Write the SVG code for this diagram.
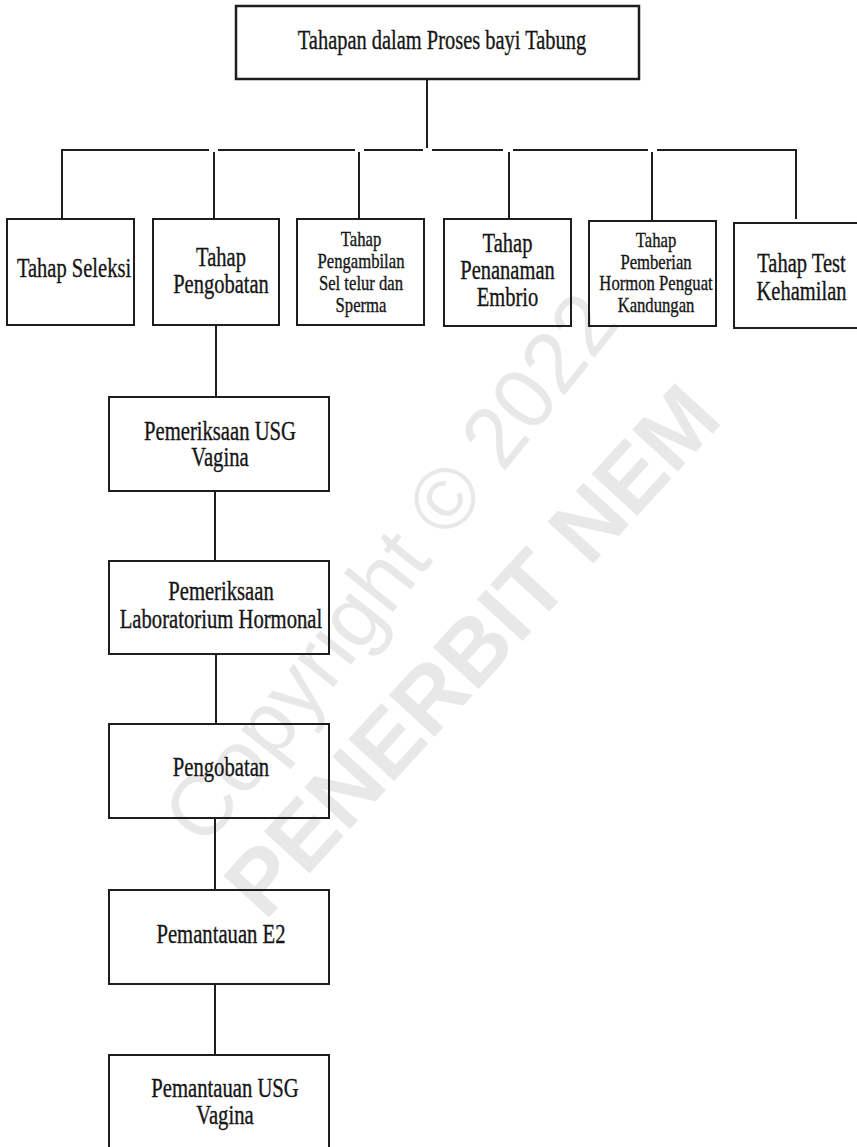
<svg xmlns="http://www.w3.org/2000/svg" width="857" height="1147" viewBox="0 0 857 1147">
<style>
.bg{fill:#fff}
.box{fill:none;stroke:#1e1e1e;stroke-width:2}
.top{fill:none;stroke:#1e1e1e;stroke-width:2.5}
.ln{stroke:#1e1e1e;stroke-width:2;fill:none}
.t{fill:#161616;stroke:#161616;stroke-width:0.35;text-anchor:middle;font-family:'Liberation Serif','Times New Roman',serif}
.L{font-size:27px}
.S{font-size:21.5px}
.C{font-size:26.5px}
.H{font-size:28px}
.wm{fill:#e8e8e8;font-family:'Liberation Sans',Arial,sans-serif}
</style>
<rect class="bg" x="0" y="0" width="857" height="1147"/>
<g id="watermark">
<text class="wm" font-size="86" transform="translate(205 849) rotate(-51.6)">Copyright © 2022</text>
<text class="wm" font-size="90" font-weight="bold" transform="translate(265 922) rotate(-47.5)">PENERBIT NEM</text>
</g>
<g id="connectors">
<line class="ln" x1="427" y1="79" x2="427" y2="148"/>
<polyline class="ln" points="62,219 62,150 209,150"/>
<line class="ln" x1="218" y1="150" x2="355" y2="150"/>
<line class="ln" x1="364" y1="150" x2="423" y2="150"/>
<line class="ln" x1="432" y1="150" x2="503" y2="150"/>
<line class="ln" x1="513" y1="150" x2="648" y2="150"/>
<polyline class="ln" points="657,150 796,150 796,219"/>
<line class="ln" x1="214" y1="152" x2="214" y2="219"/>
<line class="ln" x1="359" y1="152" x2="359" y2="219"/>
<line class="ln" x1="509" y1="152" x2="509" y2="219"/>
<line class="ln" x1="652" y1="152" x2="652" y2="221"/>
<line class="ln" x1="216" y1="325" x2="216" y2="397"/>
<line class="ln" x1="215" y1="491" x2="215" y2="561"/>
<line class="ln" x1="216" y1="654" x2="216" y2="724"/>
<line class="ln" x1="215" y1="818" x2="215" y2="890"/>
<line class="ln" x1="215" y1="984" x2="215" y2="1055"/>
</g>
<g id="n-root">
<rect class="top" x="236" y="6" width="403" height="73"/>
<text class="t H" transform="translate(442 49) scale(0.73 1)">Tahapan dalam Proses bayi Tabung</text>
</g>
<g id="n-seleksi">
<rect class="box" x="7" y="219" width="127" height="106"/>
<text class="t L" transform="translate(74 276.5) scale(0.76 1)">Tahap Seleksi</text>
</g>
<g id="n-pengobatan">
<rect class="box" x="153" y="219" width="126" height="106"/>
<text class="t L" transform="translate(221 265.5) scale(0.76 1)">Tahap</text>
<text class="t L" transform="translate(221 292.5) scale(0.76 1)">Pengobatan</text>
</g>
<g id="n-pengambilan">
<rect class="box" x="297" y="219" width="127" height="106"/>
<text class="t S" transform="translate(361 246) scale(0.775 1)">Tahap</text>
<text class="t S" transform="translate(361 268) scale(0.775 1)">Pengambilan</text>
<text class="t S" transform="translate(361 290) scale(0.775 1)">Sel telur dan</text>
<text class="t S" transform="translate(361 312) scale(0.775 1)">Sperma</text>
</g>
<g id="n-penanaman">
<rect class="box" x="444" y="219" width="127" height="107"/>
<text class="t L" transform="translate(507.5 251.5) scale(0.76 1)">Tahap</text>
<text class="t L" transform="translate(507.5 278.5) scale(0.76 1)">Penanaman</text>
<text class="t L" transform="translate(507.5 305.5) scale(0.76 1)">Embrio</text>
</g>
<g id="n-pemberian">
<rect class="box" x="589" y="221" width="127" height="105"/>
<text class="t S" transform="translate(656 247) scale(0.775 1)">Tahap</text>
<text class="t S" transform="translate(656 268.5) scale(0.775 1)">Pemberian</text>
<text class="t S" transform="translate(656 290) scale(0.775 1)">Hormon Penguat</text>
<text class="t S" transform="translate(656 311.5) scale(0.775 1)">Kandungan</text>
</g>
<g id="n-test">
<rect class="box" x="734" y="223" width="140" height="105"/>
<text class="t L" transform="translate(801.5 271.5) scale(0.76 1)">Tahap Test</text>
<text class="t L" transform="translate(801.5 299.5) scale(0.76 1)">Kehamilan</text>
</g>
<g id="n-usg">
<rect class="box" x="109" y="397" width="220" height="94"/>
<text class="t C" transform="translate(220 439.5) scale(0.78 1)">Pemeriksaan USG</text>
<text class="t C" transform="translate(220 466) scale(0.78 1)">Vagina</text>
</g>
<g id="n-lab">
<rect class="box" x="109" y="561" width="220" height="93"/>
<text class="t C" transform="translate(221 599.5) scale(0.78 1)">Pemeriksaan</text>
<text class="t C" transform="translate(221 628) scale(0.78 1)">Laboratorium Hormonal</text>
</g>
<g id="n-obat">
<rect class="box" x="109" y="724" width="220" height="94"/>
<text class="t C" transform="translate(221 776) scale(0.78 1)">Pengobatan</text>
</g>
<g id="n-e2">
<rect class="box" x="109" y="890" width="220" height="94"/>
<text class="t C" transform="translate(221 942.5) scale(0.78 1)">Pemantauan E2</text>
</g>
<g id="n-usg2">
<rect class="box" x="109" y="1055" width="220" height="110"/>
<text class="t C" transform="translate(225 1097) scale(0.78 1)">Pemantauan USG</text>
<text class="t C" transform="translate(225 1124) scale(0.78 1)">Vagina</text>
</g>
</svg>
